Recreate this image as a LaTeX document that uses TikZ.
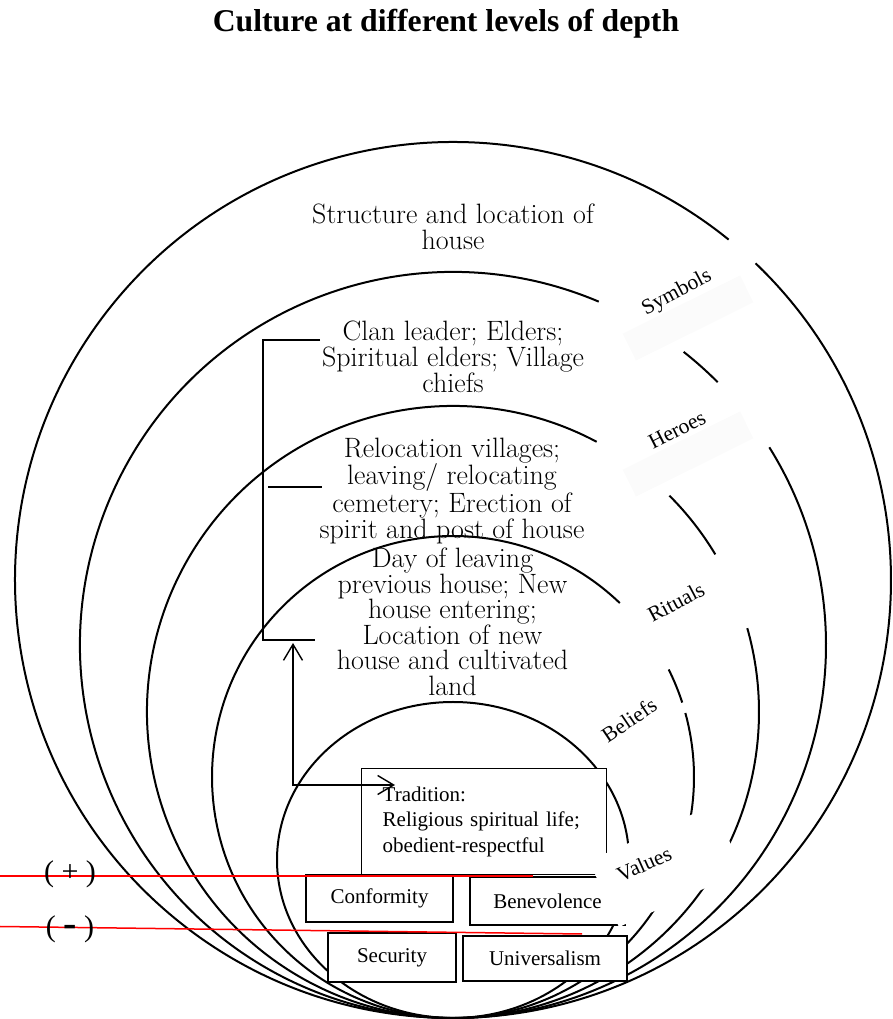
\documentclass[tikz,border=0pt]{standalone}
\usepackage{fontspec}
\newfontfamily\tnr{Liberation Serif}
\usetikzlibrary{arrows.meta}

\begin{document}
\begin{tikzpicture}[x=1pt, y=1pt,
	capa/.style={line width=2pt},
	caja/.style={draw, line width=1.4pt, fill=white, inner sep=0pt, font=\tnr\fontsize{21}{25.5}\selectfont},
	nivel/.style={font=\fontsize{28}{26}\selectfont, align=center, inner sep=0pt, anchor=north},
	etiq/.style={font=\tnr\fontsize{21.5}{24}\selectfont, inner sep=0pt},
	sombra/.style={fill=black!1.5, inner sep=0pt, minimum width=131pt, minimum height=30pt, rotate=26.4},
	>={Straight Barb[length=16pt, width=19pt]}]

\useasboundingbox (0,0) rectangle (893,1019);

\node[font=\tnr\bfseries\fontsize{31.7}{34}\selectfont, anchor=base] (title) at (446,987) {Culture at different levels of depth};

% Sombras de las etiquetas
\node[sombra] (shsym) at (688,701) {};
\node[sombra] (shher) at (688,565) {};

% Capas
	\foreach \cy/\r/\a/\b in {439/438/51/406.3, 374/373/67/392, 307/306/62/375.9, 242/241/46.2/375.4}
		\draw[capa] ([shift={(\a:\r)}]453,\cy) arc[start angle=\a, end angle=\b, radius=\r];

	\foreach \cy/\r/\a/\b in {374/373/44.8/51.8, 307/306/31/45, 242/241/18/26.5}
		\draw[capa] ([shift={(\a:\r)}]453,\cy) arc[start angle=\a, end angle=\b, radius=\r];

	\draw[capa] (453,159) ellipse[x radius=176, y radius=158];

% Valores
\node[caja, anchor=north west, text width=203pt, inner xsep=21pt, inner ysep=18pt, align=left] (trad) at (361,251) {Tradition:\\Religious spiritual life;\\obedient-respectful};
\node[caja, minimum width=155pt, minimum height=48pt] (benev) at (547.5,118) {Benevolence};
\node[caja, minimum width=147pt, minimum height=47pt] (conf) at (379.5,120.5) {Conformity};
\fill[white] (589,158) -- (713,214) -- (743,148) -- (619,92) -- cycle;
\node[caja, minimum width=128pt, minimum height=49pt] (secu) at (392,61.5) {Security};
\node[caja, minimum width=164pt, minimum height=45pt] (univ) at (545,60.5) {Universalism};

% Textos de cada nivel
\node[nivel] (txsym) at (453,815.4) {Structure and location of\\house};
\node[nivel] (txher) at (453,698.4) {Clan leader; Elders;\\Spiritual elders; Village\\chiefs};
\node[nivel] (txrit) at (452,581.4) {Relocation villages;\\leaving/ relocating\\cemetery; Erection of\\spirit and post of house};
\node[nivel, font=\fontsize{28}{25.6}\selectfont] (txbel) at (452.5,471.4) {Day of leaving\\previous house; New\\house entering;\\Location of new\\house and cultivated\\land};

\node[etiq, rotate=28] (sym) at (677,726) {Symbols};
\node[etiq, rotate=27] (her) at (677,589) {Heroes};
\node[etiq, rotate=28] (rit) at (676,417) {Rituals};
\node[etiq, rotate=34] (bel) at (629,299) {Beliefs};
\node[etiq, rotate=24] (val) at (644,155) {Values};

% Corchete y flecha
\draw[line width=1.4pt] (320,679) -- (263,679) -- (263,379) -- (315,379);
\draw[line width=1.4pt] (268,532) -- (322,532);

\coordinate (arrup) at (293,376);
\coordinate (arrtrad) at (395,234);
\draw[<->, line width=1.4pt] (arrup) |- (arrtrad);

% Lineas rojas
\draw[red, line width=1.5pt] (0,143) -- (533,143);
\draw[red, line width=1.5pt] (0,92.5) -- (582,85);
\node[font=\tnr\fontsize{30}{32}\selectfont, inner sep=0pt] (plus) at (70,144.5) {( + )};
\node[font=\tnr\fontsize{30}{32}\selectfont, inner sep=0pt] (minus) at (70,90) {( {\bfseries\fontsize{40}{40}\selectfont -} )};
\end{tikzpicture}
\end{document}
